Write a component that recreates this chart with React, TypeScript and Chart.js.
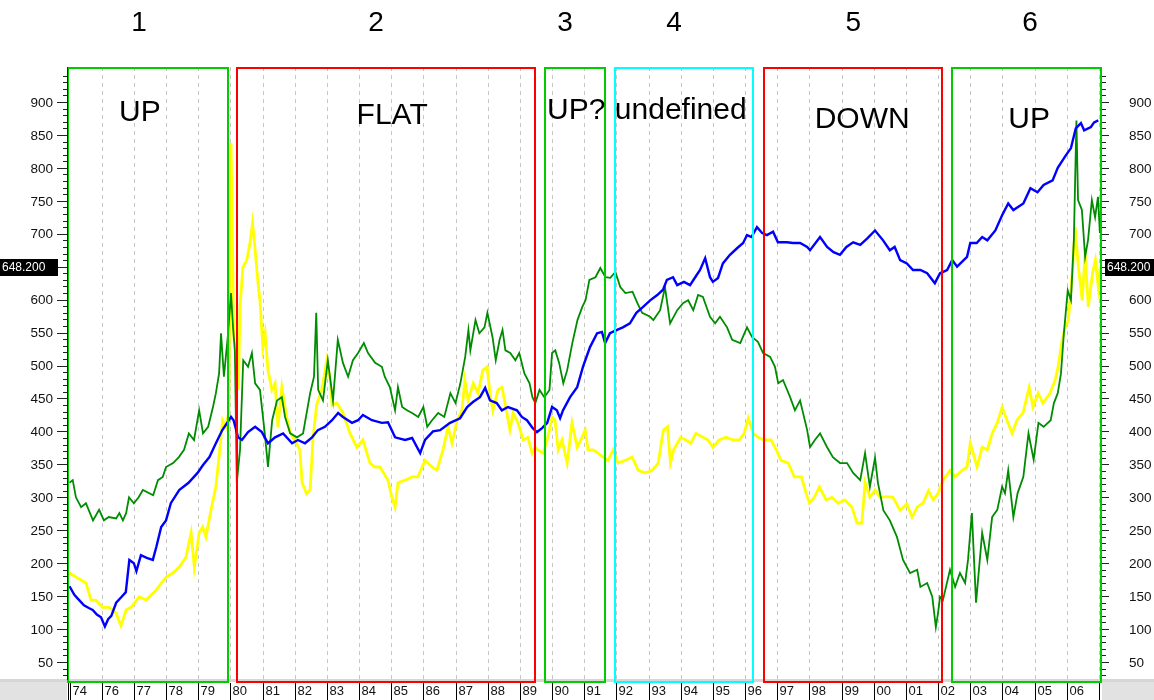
import React, { useEffect, useRef } from "react";
import { Chart, registerables } from "chart.js";

Chart.register(...registerables);

// ---------- axis ranges ----------
const X_MIN = 1974.922;
const X_MAX = 2007.064;
const Y_MIN = 22.7;
const Y_MAX = 953.1;

// ---------- tick data ----------
const yTickValues = [50, 100, 150, 200, 250, 300, 350, 400, 450, 500, 550, 600, 650, 700, 750, 800, 850, 900];
const xTickYears = [1975, 1976, 1977, 1978, 1979, 1980, 1981, 1982, 1983, 1984, 1985, 1986, 1987, 1988, 1989, 1990, 1991, 1992, 1993, 1994, 1995, 1996, 1997, 1998, 1999, 2000, 2001, 2002, 2003, 2004, 2005, 2006];
const xTickLabels = ["74", "76", "77", "78", "79", "80", "81", "82", "83", "84", "85", "86", "87", "88", "89", "90", "91", "92", "93", "94", "95", "96", "97", "98", "99", "00", "01", "02", "03", "04", "05", "06"];
const gridYears = [1976, 1977, 1978, 1979, 1980, 1981, 1982, 1983, 1984, 1985, 1986, 1987, 1988, 1989, 1990, 1991, 1992, 1993, 1994, 1995, 1996, 1997, 1998, 1999, 2000, 2001, 2002, 2003, 2004, 2005, 2006, 2007];
const lastValue = 648.2;
const lastValueLabel = "648.200";

// ---------- phases ----------
const phaseNumbers = ["1", "2", "3", "4", "5", "6"];
const phaseLabels = ["UP", "FLAT", "UP?", "undefined", "DOWN", "UP"];
const phaseStart = [1974.95, 1980.21, 1989.78, 1991.96, 1996.59, 2002.43];
const phaseEnd = [1979.93, 1989.47, 1991.65, 1996.25, 2002.12, 2007.06];
const phaseColors = ["#00cc00", "#ff0000", "#00cc00", "#00ffff", "#ff0000", "#00cc00"];
const phaseNumberAt = [1977.16, 1984.53, 1990.4, 1993.79, 1999.36, 2004.86];
const phaseLabelAt = [1977.19, 1985.03, 1990.75, 1994.0, 1999.64, 2004.83];
const phaseLabelTop = [113, 116, 111, 111, 120, 120];

// ---------- series (decimal year, value) ----------
const bluePoints: [number, number][] = [
  [1975.0,165],[1975.15,152],[1975.3,144],[1975.45,136],[1975.6,132],[1975.72,129],[1975.85,122],[1975.98,118],[1976.1,104],[1976.2,115],[1976.3,120],[1976.45,140],[1976.6,148],[1976.75,156],[1976.86,205],[1977.0,200],[1977.08,188],[1977.22,212],[1977.4,208],[1977.59,205],[1977.7,225],[1977.85,255],[1978.0,265],[1978.15,291],[1978.41,311],[1978.7,322],[1978.98,337],[1979.15,349],[1979.35,361],[1979.55,382],[1979.75,402],[1979.9,413],[1980.02,422],
  [1980.1,417],[1980.24,391],[1980.36,387],[1980.55,399],[1980.77,407],[1980.98,399],[1981.17,382],[1981.39,391],[1981.64,397],[1981.92,382],[1982.1,387],[1982.32,382],[1982.54,391],[1982.72,402],[1982.94,407],[1983.16,417],[1983.35,428],[1983.5,422],[1983.78,413],[1983.97,417],[1984.12,425],[1984.4,417],[1984.71,413],[1984.9,414],[1985.12,391],[1985.43,387],[1985.65,390],[1985.9,367],[1986.05,387],[1986.3,400],[1986.52,402],[1986.83,413],[1987.14,420],[1987.36,437],[1987.55,445],[1987.76,452],[1987.92,466],[1988.07,447],[1988.28,443],[1988.44,432],[1988.63,437],[1988.91,432],[1989.06,422],[1989.22,417],[1989.4,405],[1989.53,399],[1989.69,405],[1989.85,413],
  [1990.0,437],[1990.15,432],[1990.25,420],[1990.34,432],[1990.56,452],[1990.78,467],[1990.96,498],[1991.18,528],[1991.4,549],[1991.55,551],[1991.65,534],[1991.8,549],[1992.02,554],[1992.2,558],[1992.42,564],[1992.62,580],[1992.83,589],[1993.05,599],[1993.27,607],[1993.45,615],[1993.57,630],[1993.76,634],[1993.89,622],[1994.1,627],[1994.29,622],[1994.45,634],[1994.6,645],[1994.76,663],[1994.91,634],[1995.0,627],[1995.16,633],[1995.31,655],[1995.53,668],[1995.75,678],[1995.94,686],[1996.06,698],[1996.2,695],[1996.37,710],[1996.53,701],[1996.68,698],[1996.87,703],[1997.02,687],[1997.3,687],[1997.49,686],[1997.71,686],[1997.93,680],[1998.02,675],[1998.33,695],[1998.55,680],[1998.75,672],[1998.95,668],[1999.15,680],[1999.36,687],[1999.58,683],[1999.8,693],
  [2000.04,705],[2000.29,690],[2000.5,675],[2000.65,680],[2000.82,660],[2001.03,655],[2001.22,645],[2001.45,645],[2001.66,640],[2001.9,625],[2002.06,640],[2002.28,645],[2002.44,660],[2002.59,650],[2002.9,665],[2003.0,686],[2003.2,686],[2003.37,695],[2003.53,690],[2003.78,705],[2003.99,728],[2004.18,746],[2004.34,736],[2004.65,746],[2004.87,769],[2005.09,763],[2005.28,774],[2005.56,781],[2005.72,800],[2005.97,819],[2006.13,830],[2006.28,860],[2006.44,868],[2006.54,857],[2006.75,862],[2006.85,869],[2006.98,872]
];

const greenPoints: [number, number][] = [
  [1975.0,322],[1975.1,326],[1975.2,300],[1975.36,285],[1975.51,291],[1975.73,265],[1975.92,281],[1976.07,265],[1976.22,270],[1976.45,268],[1976.55,276],[1976.66,265],[1976.76,276],[1976.85,300],[1977.0,291],[1977.15,300],[1977.28,311],[1977.6,303],[1977.75,326],[1977.9,331],[1978.0,346],[1978.22,352],[1978.4,361],[1978.56,372],[1978.71,397],[1978.87,387],[1979.03,432],[1979.15,397],[1979.31,407],[1979.46,437],[1979.55,458],[1979.65,488],[1979.71,549],[1979.8,483],[1979.93,549],
  [1980.02,610],[1980.08,560],[1980.14,523],[1980.2,322],[1980.3,372],[1980.4,508],[1980.55,498],[1980.67,519],[1980.77,473],[1980.92,463],[1981.07,397],[1981.17,346],[1981.3,417],[1981.45,447],[1981.6,452],[1981.7,422],[1981.86,397],[1982.07,391],[1982.26,397],[1982.48,458],[1982.6,483],[1982.67,580],[1982.73,463],[1982.88,447],[1983.03,508],[1983.19,447],[1983.34,539],[1983.5,504],[1983.66,483],[1983.81,508],[1983.97,519],[1984.15,534],[1984.28,519],[1984.5,504],[1984.71,498],[1984.8,483],[1984.96,467],[1985.12,432],[1985.21,467],[1985.34,437],[1985.49,432],[1985.65,428],[1985.84,422],[1986.0,437],[1986.12,407],[1986.27,417],[1986.46,428],[1986.65,422],[1986.84,458],[1987.0,443],[1987.15,473],[1987.3,513],[1987.4,554],[1987.46,523],[1987.62,569],[1987.74,549],[1987.9,558],[1987.99,580],[1988.15,543],[1988.25,508],[1988.37,539],[1988.46,554],[1988.55,523],[1988.7,519],[1988.86,508],[1988.98,519],[1989.14,488],[1989.3,473],[1989.39,452],[1989.48,443],[1989.61,463],[1989.76,452],[1989.92,463],
  [1990.0,519],[1990.1,523],[1990.22,504],[1990.35,473],[1990.47,493],[1990.63,534],[1990.79,569],[1990.94,589],[1991.04,599],[1991.16,630],[1991.35,634],[1991.5,648],[1991.66,634],[1991.81,633],[1991.97,642],[1992.12,619],[1992.28,610],[1992.5,612],[1992.65,595],[1992.8,580],[1993.05,574],[1993.15,569],[1993.36,584],[1993.51,619],[1993.67,564],[1993.89,584],[1994.08,595],[1994.23,599],[1994.39,584],[1994.54,607],[1994.69,604],[1994.91,574],[1995.07,564],[1995.22,574],[1995.44,558],[1995.6,539],[1995.85,534],[1996.06,558],[1996.22,543],[1996.4,536],[1996.56,519],[1996.78,513],[1996.93,498],[1997.03,473],[1997.18,478],[1997.4,452],[1997.55,432],[1997.71,447],[1997.93,402],[1998.02,376],[1998.17,387],[1998.33,397],[1998.55,376],[1998.73,361],[1998.95,352],[1999.17,352],[1999.36,337],[1999.58,326],[1999.73,367],[1999.88,316],
  [2000.04,360],[2000.13,322],[2000.3,280],[2000.5,265],[2000.72,240],[2000.91,205],[2001.13,185],[2001.35,190],[2001.45,164],[2001.66,170],[2001.82,149],[2001.93,103],[2002.0,125],[2002.06,149],[2002.15,144],[2002.37,190],[2002.53,164],[2002.68,185],[2002.84,170],[2002.93,205],[2003.05,276],[2003.18,140],[2003.37,246],[2003.53,205],[2003.68,270],[2003.84,281],[2003.99,316],[2004.08,306],[2004.18,341],[2004.34,270],[2004.47,306],[2004.65,331],[2004.81,397],[2004.97,357],[2005.12,413],[2005.28,407],[2005.5,417],[2005.6,443],[2005.72,458],[2005.82,488],[2005.91,549],[2006.03,614],[2006.13,599],[2006.22,690],[2006.3,872],[2006.35,751],[2006.47,736],[2006.57,665],[2006.66,690],[2006.78,751],[2006.88,725],[2006.97,756],[2007.03,701]
];

const yellowPoints: [number, number][] = [
  [1975.0,185],[1975.2,179],[1975.51,170],[1975.67,144],[1975.82,144],[1976.03,133],[1976.24,133],[1976.45,124],[1976.6,105],[1976.76,129],[1976.91,133],[1977.17,149],[1977.38,144],[1977.69,159],[1978.0,179],[1978.21,185],[1978.41,194],[1978.62,209],[1978.78,246],[1978.88,194],[1979.03,246],[1979.14,255],[1979.24,240],[1979.4,281],[1979.55,316],[1979.66,367],[1979.76,417],[1979.86,407],[1979.95,430],
  [1980.02,838],[1980.06,716],[1980.1,549],[1980.2,498],[1980.25,463],[1980.3,589],[1980.39,649],[1980.51,660],[1980.61,686],[1980.69,716],[1980.77,675],[1980.86,625],[1980.92,599],[1980.97,558],[1981.01,528],[1981.08,549],[1981.17,493],[1981.29,463],[1981.39,473],[1981.48,407],[1981.6,467],[1981.75,422],[1981.85,400],[1981.95,391],[1982.16,372],[1982.23,322],[1982.37,305],[1982.48,311],[1982.57,390],[1982.68,440],[1982.84,463],[1983.0,508],[1983.1,480],[1983.16,440],[1983.31,443],[1983.5,428],[1983.72,397],[1983.93,376],[1984.12,387],[1984.34,352],[1984.5,346],[1984.65,346],[1984.9,326],[1985.02,300],[1985.12,285],[1985.21,322],[1985.43,326],[1985.65,331],[1985.83,331],[1986.05,356],[1986.27,346],[1986.42,341],[1986.61,372],[1986.77,407],[1986.89,382],[1987.05,417],[1987.2,432],[1987.29,478],[1987.39,447],[1987.55,473],[1987.7,458],[1987.85,493],[1987.98,498],[1988.07,458],[1988.16,432],[1988.32,463],[1988.44,467],[1988.54,443],[1988.69,402],[1988.79,428],[1988.94,413],[1989.1,387],[1989.25,391],[1989.38,367],[1989.47,376],[1989.56,372],[1989.72,367],[1989.87,391],
  [1990.0,422],[1990.09,417],[1990.19,372],[1990.31,387],[1990.47,352],[1990.62,413],[1990.78,376],[1990.93,391],[1991.03,402],[1991.12,372],[1991.28,372],[1991.43,367],[1991.59,361],[1991.74,356],[1991.9,372],[1992.05,352],[1992.27,356],[1992.49,361],[1992.68,341],[1992.9,337],[1993.11,341],[1993.3,352],[1993.46,402],[1993.59,407],[1993.68,352],[1993.78,372],[1994.0,391],[1994.16,387],[1994.31,382],[1994.47,397],[1994.69,391],[1994.85,387],[1995.0,376],[1995.19,387],[1995.41,391],[1995.63,387],[1995.82,387],[1995.97,397],[1996.1,420],[1996.25,397],[1996.41,391],[1996.59,387],[1996.81,387],[1996.97,372],[1997.12,356],[1997.34,352],[1997.53,331],[1997.75,331],[1997.9,306],[1998.0,291],[1998.15,300],[1998.31,316],[1998.52,296],[1998.7,300],[1998.89,291],[1999.1,296],[1999.32,285],[1999.48,261],[1999.63,261],[1999.73,322],[1999.88,300],
  [2000.04,311],[2000.19,300],[2000.41,301],[2000.6,300],[2000.82,280],[2001.03,290],[2001.19,270],[2001.35,285],[2001.54,292],[2001.7,310],[2001.85,296],[2002.0,306],[2002.16,326],[2002.37,341],[2002.53,331],[2002.75,341],[2002.9,346],[2003.0,382],[2003.09,367],[2003.21,346],[2003.37,376],[2003.53,372],[2003.68,397],[2003.84,413],[2003.99,437],[2004.14,417],[2004.3,397],[2004.45,417],[2004.64,428],[2004.83,467],[2004.95,437],[2005.11,458],[2005.26,443],[2005.48,458],[2005.64,478],[2005.73,498],[2005.86,539],[2005.95,558],[2006.05,569],[2006.17,640],[2006.26,710],[2006.36,650],[2006.48,599],[2006.57,671],[2006.67,589],[2006.8,640],[2006.89,660],[2006.98,619],[2007.04,650]
];

// ---------- styling ----------
const FONT = 'Arial, "Liberation Sans", Helvetica, sans-serif';
const BLUE = "#0000ff";
const GREEN = "#008c00";
const YELLOW = "#ffff00";

const toXY = (pts: [number, number][]) => pts.map(([x, y]) => ({ x, y }));

const overlayPlugin = {
  id: "overlay",
  beforeDatasetsDraw(chart: any) {
    const { ctx, chartArea, scales } = chart;
    const x = scales.x;
    ctx.save();
    ctx.strokeStyle = "#c6c6c6";
    ctx.lineWidth = 1;
    ctx.setLineDash([4, 4]);
    gridYears.forEach((yr) => {
      const px = Math.round(x.getPixelForValue(yr)) + 0.5;
      ctx.beginPath();
      ctx.moveTo(px, chartArea.top);
      ctx.lineTo(px, chartArea.bottom);
      ctx.stroke();
    });
    ctx.restore();
  },
  afterDatasetsDraw(chart: any) {
    const { ctx, chartArea, scales } = chart;
    const x = scales.x;
    ctx.save();
    // bottom band
    ctx.fillStyle = "#d6d6d6";
    ctx.fillRect(0, chartArea.bottom - 1, chart.width, 3);
    ctx.fillStyle = "#e2e2e2";
    ctx.fillRect(0, chartArea.bottom + 2, Math.round(x.getPixelForValue(1975)) - 3, chart.height - chartArea.bottom);
    ctx.fillRect(chartArea.right + 1, chartArea.bottom + 2, chart.width - chartArea.right, chart.height - chartArea.bottom);

    // phase boxes
    ctx.lineWidth = 2;
    phaseStart.forEach((s, i) => {
      const x1 = Math.round(x.getPixelForValue(s));
      const x2 = Math.round(x.getPixelForValue(phaseEnd[i]));
      ctx.strokeStyle = phaseColors[i];
      ctx.strokeRect(x1, chartArea.top + 1, x2 - x1, chartArea.bottom + 2 - (chartArea.top + 1));
    });
    // labels in boxes
    ctx.fillStyle = "#000";
    ctx.textAlign = "center";
    ctx.textBaseline = "middle";
    ctx.font = `30px ${FONT}`;
    phaseLabels.forEach((t, i) => {
      ctx.fillText(t, x.getPixelForValue(phaseLabelAt[i]), phaseLabelTop[i]);
    });
    ctx.font = `28px ${FONT}`;
    phaseNumbers.forEach((t, i) => {
      ctx.fillText(t, x.getPixelForValue(phaseNumberAt[i]), 23);
    });
    ctx.restore();
  },
  afterDraw(chart: any) {
    const { ctx, chartArea, scales } = chart;
    const x = scales.x;
    const y = scales.y;
    ctx.save();
    ctx.strokeStyle = "#222";
    ctx.fillStyle = "#111";
    ctx.lineWidth = 1;
    // y ticks (left and right)
    for (let v = 30; v <= 950; v += 10) {
      const py = Math.round(y.getPixelForValue(v)) + 0.5;
      if (py < chartArea.top + 4 || py > chartArea.bottom) continue;
      const major = v % 50 === 0;
      const lenL = major ? 10 : 4;
      const lenR = major ? 7 : 4;
      ctx.beginPath();
      ctx.moveTo(chartArea.left - lenL, py);
      ctx.lineTo(chartArea.left, py);
      ctx.moveTo(chartArea.right + 1, py);
      ctx.lineTo(chartArea.right + 1 + lenR, py);
      ctx.stroke();
    }
    ctx.font = `13.5px ${FONT}`;
    ctx.textBaseline = "middle";
    yTickValues.forEach((v) => {
      const py = y.getPixelForValue(v);
      ctx.textAlign = "right";
      ctx.fillText(String(v), 53, py + 1);
      ctx.textAlign = "left";
      ctx.fillText(String(v), 1129, py + 1);
    });
    // left axis line
    ctx.beginPath();
    ctx.moveTo(chartArea.left + 0.5, chartArea.top);
    ctx.lineTo(chartArea.left + 0.5, chartArea.bottom);
    ctx.stroke();

    // x ticks and labels
    ctx.strokeStyle = "#000";
    ctx.textAlign = "left";
    ctx.font = `13px ${FONT}`;
    xTickYears.forEach((yr, i) => {
      const px = Math.round(x.getPixelForValue(yr)) + 0.5;
      ctx.beginPath();
      ctx.moveTo(px, chartArea.bottom + 3);
      ctx.lineTo(px, chart.height);
      if (i === 0) {
        ctx.moveTo(px - 2, chartArea.bottom + 3);
        ctx.lineTo(px - 2, chart.height);
      }
      ctx.stroke();
      ctx.fillText(xTickLabels[i], px + 2, chartArea.bottom + 11);
    });
    const endPx = Math.round(x.getPixelForValue(2007)) + 0.5;
    ctx.beginPath();
    ctx.moveTo(endPx, chartArea.bottom + 3);
    ctx.lineTo(endPx, chart.height);
    ctx.stroke();

    // last value tags
    const ly = y.getPixelForValue(lastValue);
    ctx.fillStyle = "#000";
    ctx.fillRect(0, Math.round(ly) - 9, 58, 17);
    ctx.fillRect(1105, Math.round(ly) - 9, 49, 17);
    ctx.fillStyle = "#fff";
    ctx.font = `12px ${FONT}`;
    ctx.textAlign = "left";
    ctx.fillText(lastValueLabel, 2, ly);
    ctx.fillText(lastValueLabel, 1107, ly);
    ctx.restore();
  },
};

export default function App() {
  const canvasRef = useRef<HTMLCanvasElement | null>(null);

  useEffect(() => {
    if (!canvasRef.current) return;
    const chart = new Chart(canvasRef.current, {
      type: "line",
      data: {
        datasets: [
          { label: "blue", data: toXY(bluePoints), borderColor: BLUE, borderWidth: 2.4, pointRadius: 0, tension: 0, fill: false },
          { label: "green", data: toXY(greenPoints), borderColor: GREEN, borderWidth: 1.8, pointRadius: 0, tension: 0, fill: false },
          { label: "yellow", data: toXY(yellowPoints), borderColor: YELLOW, borderWidth: 2.8, pointRadius: 0, tension: 0, fill: false },
        ],
      },
      options: {
        animation: false,
        responsive: false,
        maintainAspectRatio: false,
        events: [],
        layout: { padding: { left: 67, right: 53, top: 67, bottom: 20 } },
        plugins: { legend: { display: false }, tooltip: { enabled: false }, title: { display: false } },
        scales: {
          x: { type: "linear", min: X_MIN, max: X_MAX, display: false },
          y: { type: "linear", min: Y_MIN, max: Y_MAX, display: false },
        },
      },
      plugins: [overlayPlugin],
    } as any);
    return () => chart.destroy();
  }, []);

  return (
    <div style={{ position: "absolute", left: 0, top: 0, width: 1154, height: 700, background: "#ffffff" }}>
      <canvas ref={canvasRef} width={1154} height={700} style={{ display: "block" }} />
    </div>
  );
}
